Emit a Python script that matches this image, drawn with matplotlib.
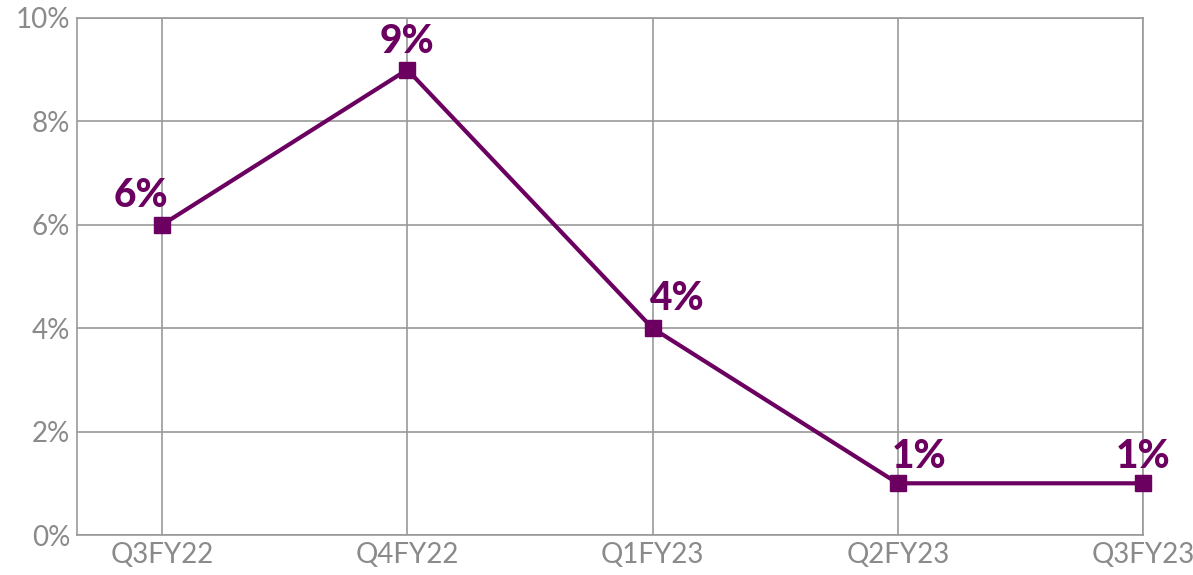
import matplotlib
matplotlib.use('Agg')
import matplotlib.pyplot as plt

quarters = ['Q3FY22', 'Q4FY22', 'Q1FY23', 'Q2FY23', 'Q3FY23']
values = [6, 9, 4, 1, 1]
y_ticks = [0, 2, 4, 6, 8, 10]

# label offsets in points (dx, dy) so text sits clear of the line
label_offsets = [(-15, 13), (0, 12), (17, 13), (15, 11), (0, 11)]

purple = '#6b0060'
grey = '#999999'

fig = plt.figure(figsize=(11.93, 5.75), dpi=100)
ax = fig.add_axes([77 / 1193, 40 / 575, (1143 - 77) / 1193, (535 - 18) / 575])

x = list(range(len(quarters)))
ax.plot(x, values, color=purple, linewidth=3, marker='s', markersize=12,
        clip_on=False, zorder=3)

for xi, v, (dx, dy) in zip(x, values, label_offsets):
    ax.annotate(f'{v}%', (xi, v), xytext=(dx, dy), textcoords='offset points',
                ha='center', va='baseline', color=purple, fontsize=28,
                fontweight='black', family='Lato')

ax.set_xlim(-0.347, 4)
ax.set_ylim(0, 10)
ax.set_xticks(x)
ax.set_xticklabels(quarters)
ax.set_yticks(y_ticks)
ax.set_yticklabels([f'{t}%' for t in y_ticks])

for lab in ax.get_xticklabels() + ax.get_yticklabels():
    lab.set_family('Lato')
    lab.set_fontweight('normal')
    lab.set_fontsize(20)
    lab.set_color('#8a8a8a')

ax.tick_params(length=0, pad=5)
ax.grid(True, color=grey, linewidth=1.2)
ax.set_axisbelow(True)
for s in ax.spines.values():
    s.set_color(grey)
    s.set_linewidth(1.2)

plt.savefig('out.png', dpi=100)
